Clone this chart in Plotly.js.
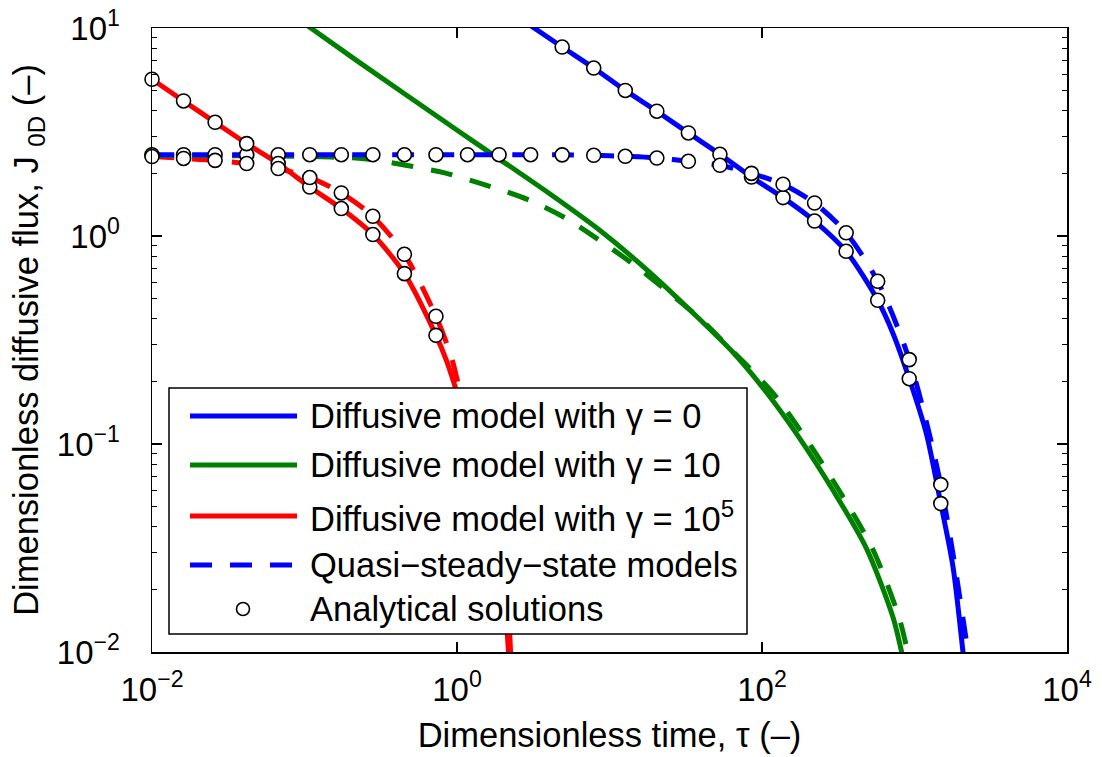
<!DOCTYPE html>
<html><head><meta charset="utf-8">
<script src="https://cdn.plot.ly/plotly-3.0.1.min.js"></script>
<style>body{margin:0;background:#fff}#chart{width:1102px;height:757px}</style>
</head><body><div id="chart"></div>
<script>
// ---------- data ----------
// analytical solution sample times (tau)
const tauGrid = [0.01, 0.016103, 0.025929, 0.041753, 0.067234, 0.10826, 0.17433, 0.28072, 0.45204, 0.72790, 1.1721, 1.8874, 3.0392, 4.8939, 7.8805, 12.690, 20.434, 32.903, 52.983, 85.317, 137.38, 221.22, 356.23, 573.61, 923.67, 1487.4];

// Diffusive model, gamma = 0 (blue solid)
const blueSolidTau = [3.04, 4.894, 7.88, 12.69, 20.43, 32.9, 53.0, 85.3, 137.4, 221.2, 356.2, 573.6, 723, 923.7, 1197, 1487, 1790, 2080, 2200];
const blueSolidJ   = [10.27, 8.1, 6.42, 5.01, 3.98, 3.13, 2.47, 1.92, 1.53, 1.18, 0.844, 0.491, 0.34, 0.206, 0.112, 0.0517, 0.0256, 0.01, 0.007];

// Diffusive model, gamma = 10 (green solid)
const greenSolidTau = [0.08, 0.219, 1.042, 1.905, 4.055, 8.63, 18.35, 39.0, 64.5, 106.9, 176.6, 292.2, 483.8, 722.8, 820.7, 862.7];
const greenSolidJ   = [11.8, 6.99, 3.162, 2.337, 1.595, 1.065, 0.669, 0.3977, 0.2761, 0.1773, 0.1065, 0.0599, 0.0315, 0.01469, 0.0101, 0.0085];

// Diffusive model, gamma = 1e5 (red solid)
const redSolidTau = [0.01, 0.016103, 0.025929, 0.041753, 0.067234, 0.10826, 0.17433, 0.28072, 0.45204, 0.72790, 0.852, 0.966, 1.306, 1.766, 2.055, 2.183];
const redSolidJ   = [5.67, 4.46, 3.52, 2.78, 2.23, 1.72, 1.355, 1.016, 0.659, 0.333, 0.2525, 0.1914, 0.0909, 0.0318, 0.0167, 0.0096];

// Quasi-steady-state models (dashed)
const blueQssTau = [0.01, 1.172, 3.04, 4.894, 7.88, 12.69, 20.43, 32.9, 53.0, 85.3, 137.4, 221.2, 356.2, 573.6, 923.7, 1487, 2240, 2400];
const blueQssJ   = [2.46, 2.46, 2.46, 2.455, 2.443, 2.416, 2.371, 2.287, 2.188, 2.0, 1.772, 1.441, 1.036, 0.6057, 0.2545, 0.0638, 0.01, 0.0066];

const greenQssTau = [0.01, 0.05, 0.108, 0.217, 0.276, 0.461, 0.830, 1.638, 2.999, 5.24, 8.89, 14.63, 23.9, 39.0, 64.25, 117.0, 193.5, 319.8, 529.6, 791.4, 898.4, 944];
const greenQssJ   = [2.44, 2.43, 2.41, 2.37, 2.33, 2.19, 2.01, 1.734, 1.484, 1.210, 0.938, 0.7231, 0.542, 0.4021, 0.2791, 0.1773, 0.1065, 0.0599, 0.0315, 0.01469, 0.0101, 0.0085];

const redQssTau = [0.01, 0.016103, 0.025929, 0.041753, 0.067234, 0.10826, 0.17433, 0.28072, 0.45204, 0.72790, 0.918, 1.026, 1.389, 1.849, 2.150, 2.249];
const redQssJ   = [2.41, 2.36, 2.31, 2.23, 2.11, 1.91, 1.61, 1.244, 0.817, 0.411, 0.262, 0.1914, 0.0909, 0.0318, 0.0167, 0.0096];

// Analytical solutions (circles)
const anBlueDiffTau = [4.8939, 7.8805, 12.690, 20.434, 32.903, 52.983, 85.317, 137.38, 221.22, 356.23, 573.61, 923.67, 1487.4];
const anBlueDiffJ   = [8.1, 6.42, 5.01, 3.98, 3.13, 2.47, 1.92, 1.53, 1.18, 0.844, 0.491, 0.206, 0.0517];
const anBlueQssJ    = [2.46, 2.46, 2.46, 2.46, 2.46, 2.46, 2.46, 2.46, 2.46, 2.46, 2.46, 2.46, 2.46, 2.455, 2.443, 2.416, 2.371, 2.287, 2.188, 2.0, 1.772, 1.441, 1.036, 0.6057, 0.2545, 0.0638];
const anRedTau      = [0.01, 0.016103, 0.025929, 0.041753, 0.067234, 0.10826, 0.17433, 0.28072, 0.45204, 0.72790];
const anRedDiffJ    = [5.67, 4.46, 3.52, 2.78, 2.23, 1.72, 1.355, 1.016, 0.659, 0.333];
const anRedQssJ     = [2.41, 2.36, 2.31, 2.23, 2.11, 1.91, 1.61, 1.244, 0.817, 0.411];

// axes text
const xTickVals = [0.01, 1, 100, 10000];
const xTickText = ['10<sup>\u22122</sup>', '10<sup>0</sup>', '10<sup>2</sup>', '10<sup>4</sup>'];
const yTickVals = [0.01, 0.1, 1, 10];
const yTickText = ['10<sup>\u22122</sup>', '10<sup>\u22121</sup>', '10<sup>0</sup>', '10<sup>1</sup>'];
const yMinorVals = [0.02,0.03,0.04,0.05,0.06,0.07,0.08,0.09,0.2,0.3,0.4,0.5,0.6,0.7,0.8,0.9,2,3,4,5,6,7,8,9];
const xTitle = 'Dimensionless time, \u03c4 (\u2013)';
const yTitle = 'Dimensionless diffusive flux, J <sub>0D</sub> (\u2013)';
const legendLabels = ['Diffusive model with \u03b3 = 0', 'Diffusive model with \u03b3 = 10', 'Diffusive model with \u03b3 = 10<sup>5</sup>', 'Quasi\u2212steady\u2212state models', 'Analytical solutions'];

// ---------- styling ----------
const BLUE = '#0000ff', GREEN = '#008000', RED = '#ff0000';
const LW = 5, DASH = '22px,18px';
const FONT = 'Liberation Sans, Arial, Helvetica, sans-serif';
const TXT = 34.5;

function lineTrace(x, y, color, dash) {
  return {x: x, y: y, type: 'scatter', mode: 'lines', showlegend: false, hoverinfo: 'skip',
          line: {color: color, width: LW, dash: dash || 'solid', shape: 'spline', smoothing: 0.8}};
}
function circTrace(x, y) {
  return {x: x, y: y, type: 'scatter', mode: 'markers', showlegend: false, cliponaxis: false, hoverinfo: 'skip',
          marker: {symbol: 'circle', size: 14, color: '#ffffff', line: {color: '#000000', width: 1.6}}};
}

const traces = [
  lineTrace(blueSolidTau, blueSolidJ, BLUE),
  lineTrace(greenSolidTau, greenSolidJ, GREEN),
  lineTrace(redSolidTau, redSolidJ, RED),
  lineTrace(redQssTau, redQssJ, RED, DASH),
  lineTrace(greenQssTau, greenQssJ, GREEN, DASH),
  lineTrace(blueQssTau, blueQssJ, BLUE, DASH),
  circTrace(anBlueDiffTau, anBlueDiffJ),
  circTrace(tauGrid, anBlueQssJ),
  circTrace(anRedTau, anRedDiffJ),
  circTrace(anRedTau, anRedQssJ)
];

// pixel -> paper helpers for the hand-built legend
const L = 152, T = 28, W = 915, H = 624;
const PX = p => (p - L) / W;
const PY = p => (T + H - p) / H;

const rows = [416, 465, 516, 565, 609];
const sx0 = 190, sx1 = 297, tx = 308;
const shapes = [
  {type: 'rect', xref: 'paper', yref: 'paper', layer: 'above', x0: PX(169), x1: PX(747), y0: PY(634), y1: PY(388),
   fillcolor: '#ffffff', line: {color: '#000000', width: 1.5}}
];
const sampleColors = [BLUE, GREEN, RED, BLUE];
sampleColors.forEach((c, i) => {
  shapes.push({type: 'line', xref: 'paper', yref: 'paper', layer: 'above', x0: PX(sx0), x1: PX(sx1), y0: PY(rows[i]), y1: PY(rows[i]),
               line: {color: c, width: LW, dash: i === 3 ? DASH : 'solid'}});
});
shapes.push({type: 'circle', xref: 'paper', yref: 'paper', layer: 'above',
             x0: PX(243 - 6.5), x1: PX(243 + 6.5), y0: PY(rows[4] + 6.5), y1: PY(rows[4] - 6.5),
             fillcolor: '#ffffff', line: {color: '#000000', width: 1.6}});

const annotations = legendLabels.map((t, i) => ({
  xref: 'paper', yref: 'paper', x: PX(tx), y: PY(rows[i]), xanchor: 'left', yanchor: 'middle',
  text: t, showarrow: false, font: {family: FONT, size: TXT, color: '#000000'}
}));

const axisCommon = {
  type: 'log', showgrid: false, zeroline: false, showline: true, linecolor: '#000000', linewidth: 1.5,
  mirror: 'ticks', ticks: 'inside', ticklen: 10, tickwidth: 1.5, tickcolor: '#000000',
  tickmode: 'array', tickfont: {family: FONT, size: 33, color: '#000000'}
};

const layout = {
  width: 1102, height: 757,
  margin: {l: L, r: 1102 - L - W, t: T, b: 757 - T - H},
  paper_bgcolor: '#ffffff', plot_bgcolor: '#ffffff',
  font: {family: FONT, color: '#000000'},
  showlegend: false,
  xaxis: Object.assign({}, axisCommon, {
    range: [-2, 4], tickvals: xTickVals, ticktext: xTickText, ticklabelstandoff: 8,
    title: {text: xTitle, font: {family: FONT, size: TXT, color: '#000000'}, standoff: 16}
  }),
  yaxis: Object.assign({}, axisCommon, {
    range: [-2, 1], tickvals: yTickVals, ticktext: yTickText, ticklabelstandoff: 24,
    minor: {tickmode: 'array', tickvals: yMinorVals, ticks: 'inside', ticklen: 5, tickwidth: 1.2, tickcolor: '#000000', showgrid: false},
    title: {text: yTitle, font: {family: FONT, size: TXT, color: '#000000'}, standoff: 8}
  }),
  shapes: shapes,
  annotations: annotations
};

Plotly.newPlot('chart', traces, layout, {staticPlot: true, displayModeBar: false});
</script>
</body></html>
